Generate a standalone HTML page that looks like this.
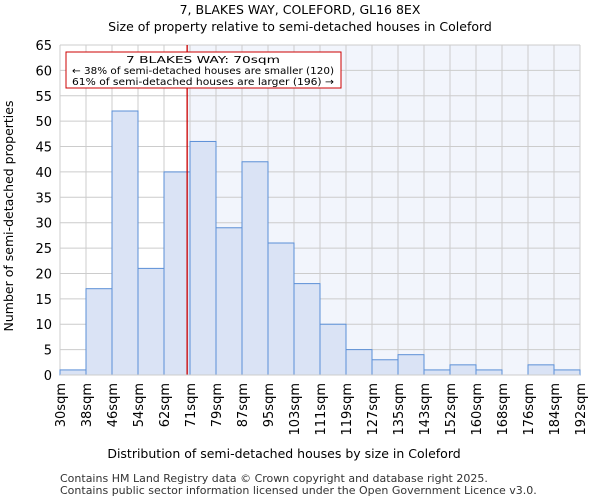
<!DOCTYPE html>
<html><head><meta charset="utf-8"><style>
body{margin:0;background:#fff;font-family:"DejaVu Sans","Liberation Sans",sans-serif}
</style></head><body>
<svg id="c" width="600" height="500" xmlns="http://www.w3.org/2000/svg" font-family="DejaVu Sans, Liberation Sans, sans-serif">
<text x="300" y="14" text-anchor="middle" font-size="12.5">7, BLAKES WAY, COLEFORD, GL16 8EX</text>
<text x="300" y="31" text-anchor="middle" font-size="12.5">Size of property relative to semi-detached houses in Coleford</text>
<g id="plot"></g>
<text x="284" y="458" text-anchor="middle" font-size="12.5">Distribution of semi-detached houses by size in Coleford</text>
<text transform="translate(13,216) rotate(-90)" text-anchor="middle" font-size="12.5">Number of semi-detached properties</text>
<text x="60" y="482" font-size="11" fill="#333">Contains HM Land Registry data © Crown copyright and database right 2025.</text>
<text x="60" y="494" font-size="11" fill="#333">Contains public sector information licensed under the Open Government Licence v3.0.</text>
</svg>
<script>
const tickLabels=["30sqm","38sqm","46sqm","54sqm","62sqm","71sqm","79sqm","87sqm","95sqm","103sqm","111sqm","119sqm","127sqm","135sqm","143sqm","152sqm","160sqm","168sqm","176sqm","184sqm","192sqm"];
const counts=[1,17,52,21,40,46,29,42,26,18,10,5,3,4,1,2,1,0,2,1];
const yTicks=[0,5,10,15,20,25,30,35,40,45,50,55,60,65];
const markerBin=4.89;
const NS="http://www.w3.org/2000/svg";
const L=60,R=580,T=45,B=375,bw=(R-L)/counts.length;
const x=i=>L+i*bw, y=v=>B-(v/65)*(B-T);
const g=document.getElementById('plot');
function el(t,a){const e=document.createElementNS(NS,t);for(const k in a)e.setAttribute(k,a[k]);g.appendChild(e);return e;}
const mx=x(markerBin);
let e=el('rect',{x:mx,y:T,width:R-mx,height:B-T,fill:'#f2f5fc'});


yTicks.forEach(v=>{let l=el('line',{x1:L,x2:R,y1:y(v),y2:y(v),stroke:'#ccc'});


let t=el('text',{x:L-8,y:y(v)+5,'text-anchor':'end','font-size':13});t.textContent=v;

});
tickLabels.forEach((s,i)=>{let l=el('line',{x1:x(i),x2:x(i),y1:T,y2:B,stroke:'#ccc'});


let t=el('text',{transform:`translate(${x(i)+5},${B+8}) rotate(-90)`,'text-anchor':'end','font-size':13});t.textContent=s;

});
counts.forEach((v,i)=>{let r=el('rect',{x:x(i),y:y(v),width:bw,height:B-y(v),fill:'#dae3f5',stroke:'#5b8fd6','stroke-width':1});

});
e=el('line',{x1:mx,x2:mx,y1:T,y2:B,stroke:'#cc0000','stroke-width':1.3});


e=el('rect',{x:66,y:52,width:275,height:36,fill:'#fff',stroke:'#cc0000'});


["7 BLAKES WAY: 70sqm","← 38% of semi-detached houses are smaller (120)","61% of semi-detached houses are larger (196) →"].forEach((s,i)=>{let t=el('text',{x:203,y:63+i*11,'text-anchor':'middle','font-size':10,'textLength':i?262:154,'lengthAdjust':'spacingAndGlyphs'});t.textContent=s;

});
e=el('line',{x1:L,x2:R,y1:B,y2:B,stroke:'#ccc'});


</script>
</body></html>
